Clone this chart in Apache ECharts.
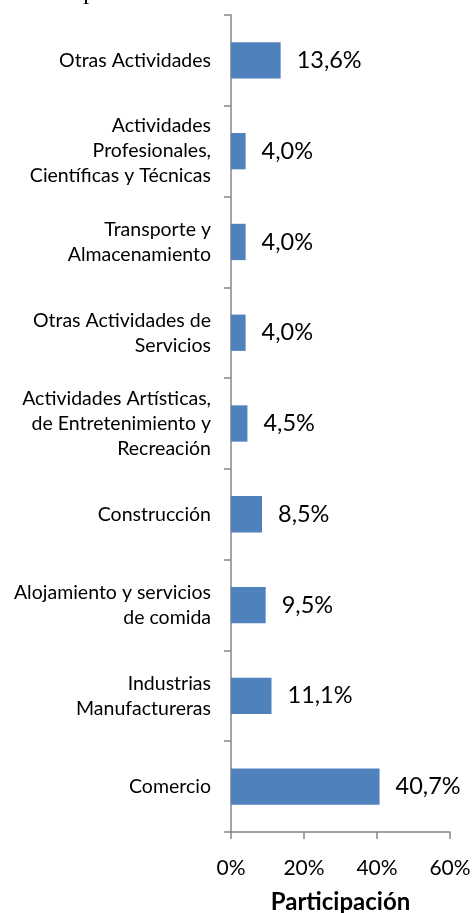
<!DOCTYPE html>
<html>
<head>
<meta charset="utf-8">
<script src="https://cdn.jsdelivr.net/npm/echarts@6/dist/echarts.min.js"></script>
<style>
  html, body { margin: 0; padding: 0; background: #fff; }
  #chart { width: 476px; height: 913px; }
</style>
</head>
<body>
<div id="chart"></div>
<script>
// categories from bottom to top
const sectores = [
  "Comercio",
  "Industrias\nManufactureras",
  "Alojamiento y servicios\nde comida",
  "Construcción",
  "Actividades Artísticas,\nde Entretenimiento y\nRecreación",
  "Otras Actividades de\nServicios",
  "Transporte y\nAlmacenamiento",
  "Actividades\nProfesionales,\nCientíficas y Técnicas",
  "Otras Actividades"
];
const participacion = [40.7, 11.1, 9.5, 8.5, 4.5, 4.0, 4.0, 4.0, 13.6];
const ticksX = [0, 20, 40, 60];

const chart = echarts.init(document.getElementById("chart"));
chart.setOption({
  animation: false,
  graphic: [{
    type: "text",
    left: 50,
    top: -19,
    style: {
      text: "Empresas",
      font: "24px 'Liberation Serif'",
      fill: "#000"
    }
  }],
  grid: {
    left: 231, right: 26, top: 15, bottom: 81,
    containLabel: false,
    outerBoundsMode: "none"
  },
  xAxis: {
    type: "value",
    min: 0,
    max: 60,
    interval: 20,
    splitLine: { show: false },
    axisLine: { show: true, lineStyle: { color: "#868686", width: 1.5 } },
    axisTick: { show: true, length: 7, lineStyle: { color: "#868686", width: 1.5 } },
    axisLabel: {
      color: "#000",
      fontFamily: "Lato",
      fontSize: 21,
      margin: 26,
      formatter: v => ticksX.includes(v) ? v + "%" : ""
    },
    name: "Participación",
    nameLocation: "middle",
    nameGap: 58,
    nameTextStyle: { color: "#000", fontFamily: "Lato", fontWeight: "bold", fontSize: 24 }
  },
  yAxis: {
    type: "category",
    data: sectores,
    axisLine: { show: true, lineStyle: { color: "#868686", width: 1.5 } },
    axisTick: { show: true, length: 7, lineStyle: { color: "#868686", width: 1.5 } },
    axisLabel: {
      color: "#000",
      fontFamily: "Lato",
      fontSize: 19.5,
      lineHeight: 25,
      margin: 20,
      align: "right"
    }
  },
  series: [{
    type: "bar",
    data: participacion,
    barWidth: "40%",
    itemStyle: { color: "#4f81bd" },
    label: {
      show: true,
      position: "right",
      distance: 16,
      color: "#000",
      fontFamily: "Lato",
      fontSize: 23.5,
      formatter: p => p.value.toFixed(1).replace(".", ",") + "%"
    }
  }]
});
</script>
</body>
</html>
